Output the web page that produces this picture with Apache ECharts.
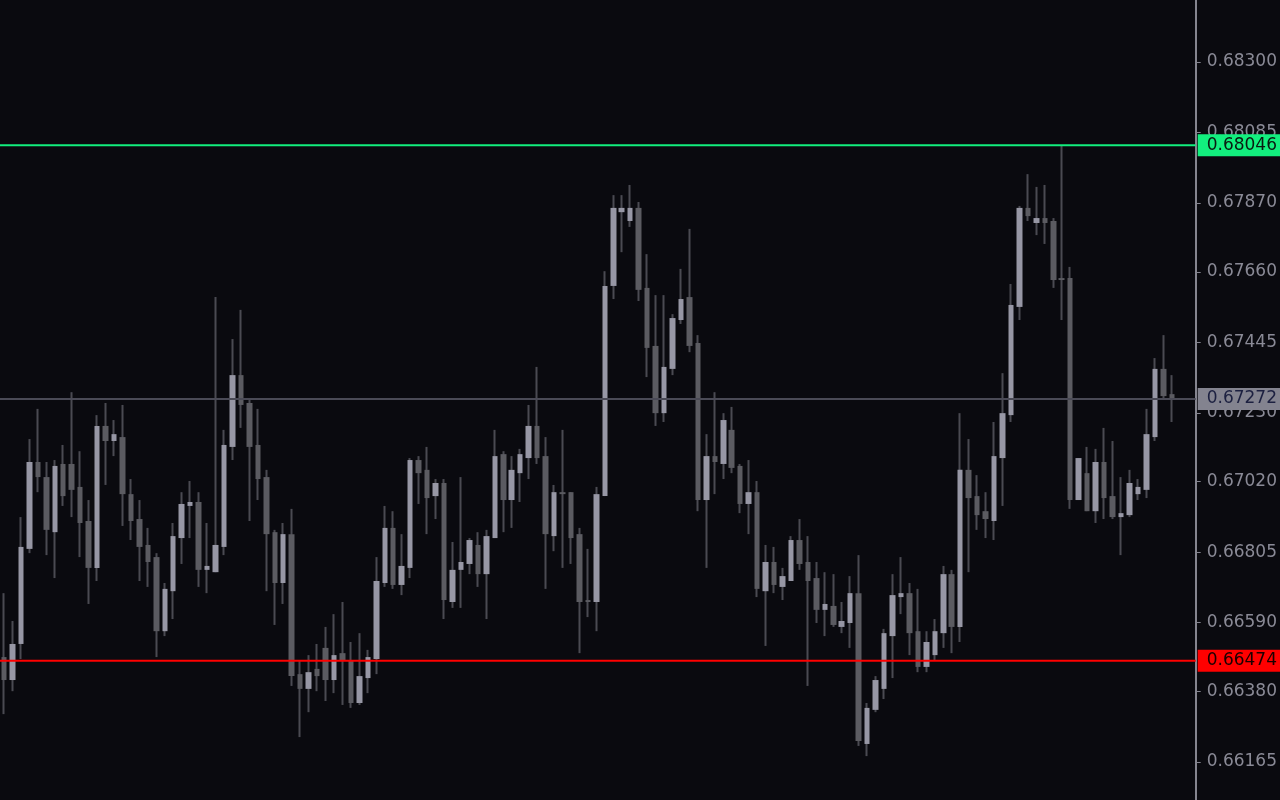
<!DOCTYPE html>
<html>
<head>
<meta charset="utf-8">
<script src="https://cdn.jsdelivr.net/npm/echarts@6/dist/echarts.min.js"></script>
<style>
html,body{margin:0;padding:0;background:#0a0a0f;}
#chart{width:1280px;height:800px;}
</style>
</head>
<body>
<div id="chart"></div>
<script>
const openVals = [0.66485,0.66415,0.66525,0.66815,0.67080,0.67034,0.66866,0.67074,0.67074,0.67004,
0.66900,0.66757,0.67190,0.67144,0.67156,0.66982,0.66906,0.66827,0.66790,0.66564,
0.66686,0.66848,0.66946,0.66958,0.66751,0.66744,0.66821,0.67126,0.67345,0.67260,
0.67132,0.67034,0.66866,0.66711,0.66860,0.66433,0.66388,0.66449,0.66513,0.66415,
0.66497,0.66476,0.66345,0.66421,0.66479,0.66711,0.66879,0.66705,0.66757,0.67086,
0.67056,0.66976,0.67016,0.66653,0.66751,0.66769,0.66827,0.66738,0.66848,0.67104,
0.66964,0.67046,0.67092,0.67190,0.67098,0.66854,0.66988,0.66988,0.66860,0.66659,
0.66653,0.66976,0.67617,0.67842,0.67815,0.67855,0.67611,0.67434,0.67229,0.67364,
0.67513,0.67583,0.67443,0.66964,0.67098,0.67074,0.67178,0.67068,0.66952,0.66988,
0.66686,0.66775,0.66699,0.66717,0.66842,0.66775,0.66726,0.66629,0.66641,0.66577,
0.66589,0.66680,0.66220,0.66324,0.66388,0.66549,0.66668,0.66680,0.66564,0.66455,
0.66491,0.66558,0.66738,0.66577,0.67056,0.66976,0.66930,0.66900,0.67092,0.67223,
0.67553,0.67855,0.67809,0.67824,0.67815,0.67641,0.67641,0.66964,0.67046,0.66930,
0.67080,0.66976,0.66912,0.66918,0.66982,0.66995,0.67156,0.67364,0.67287];

const closeVals = [0.66415,0.66525,0.66821,0.67080,0.67034,0.66873,0.67068,0.66976,0.66995,0.66894,
0.66757,0.67190,0.67144,0.67165,0.66982,0.66900,0.66821,0.66775,0.66564,0.66693,
0.66854,0.66952,0.66958,0.66751,0.66763,0.66827,0.67132,0.67345,0.67254,0.67126,
0.67028,0.66860,0.66711,0.66860,0.66427,0.66388,0.66439,0.66427,0.66415,0.66491,
0.66476,0.66345,0.66427,0.66485,0.66717,0.66879,0.66705,0.66763,0.67086,0.67046,
0.66970,0.67016,0.66659,0.66751,0.66775,0.66842,0.66738,0.66854,0.67098,0.66964,
0.67056,0.67104,0.67190,0.67092,0.66860,0.66988,0.66982,0.66848,0.66653,0.66653,
0.66982,0.67617,0.67855,0.67855,0.67855,0.67605,0.67428,0.67229,0.67370,0.67519,
0.67577,0.67434,0.66964,0.67098,0.67080,0.67208,0.67062,0.66952,0.66988,0.66693,
0.66775,0.66705,0.66732,0.66842,0.66769,0.66717,0.66629,0.66647,0.66583,0.66595,
0.66680,0.66229,0.66330,0.66415,0.66558,0.66674,0.66680,0.66558,0.66455,0.66531,
0.66564,0.66738,0.66577,0.67056,0.66970,0.66918,0.66906,0.67098,0.67229,0.67559,
0.67855,0.67830,0.67824,0.67809,0.67635,0.67635,0.66964,0.67092,0.66930,0.67080,
0.66970,0.66912,0.66924,0.67016,0.67004,0.67165,0.67364,0.67281,0.67272];

const lowVals = [0.66311,0.66381,0.66479,0.66802,0.66988,0.66796,0.66726,0.66946,0.66912,0.66790,
0.66647,0.66717,0.67010,0.67098,0.66885,0.66842,0.66717,0.66699,0.66485,0.66549,
0.66601,0.66769,0.66848,0.66699,0.66680,0.66744,0.66796,0.67086,0.67184,0.66900,
0.66964,0.66686,0.66583,0.66647,0.66397,0.66241,0.66317,0.66381,0.66351,0.66375,
0.66339,0.66330,0.66339,0.66375,0.66433,0.66699,0.66693,0.66674,0.66726,0.66952,
0.66860,0.66906,0.66601,0.66635,0.66635,0.66738,0.66699,0.66601,0.66848,0.66866,
0.66879,0.66958,0.67028,0.67074,0.66693,0.66808,0.66757,0.66769,0.66497,0.66607,
0.66564,0.66976,0.67577,0.67720,0.67797,0.67571,0.67339,0.67190,0.67202,0.67345,
0.67501,0.67415,0.66930,0.66757,0.66982,0.67028,0.67046,0.66924,0.66860,0.66668,
0.66519,0.66680,0.66659,0.66717,0.66751,0.66397,0.66589,0.66549,0.66577,0.66558,
0.66513,0.66214,0.66183,0.66317,0.66357,0.66421,0.66616,0.66491,0.66439,0.66439,
0.66476,0.66513,0.66497,0.66531,0.66744,0.66873,0.66848,0.66842,0.66946,0.67202,
0.67513,0.67815,0.67772,0.67745,0.67611,0.67513,0.66937,0.66964,0.66930,0.66894,
0.66906,0.66906,0.66796,0.66912,0.66964,0.66970,0.67144,0.67275,0.67202];

const highVals = [0.66680,0.66595,0.66912,0.67150,0.67242,0.67080,0.67086,0.67132,0.67293,0.67113,
0.66964,0.67223,0.67260,0.67208,0.67254,0.67028,0.66964,0.66879,0.66802,0.66711,
0.66894,0.66988,0.67022,0.66988,0.66894,0.67583,0.67178,0.67455,0.67544,0.67269,
0.67242,0.67056,0.66873,0.66894,0.66937,0.66473,0.66491,0.66525,0.66577,0.66616,
0.66653,0.66531,0.66558,0.66507,0.66790,0.66946,0.66930,0.66860,0.67092,0.67098,
0.67126,0.67028,0.67028,0.66836,0.67034,0.66848,0.66866,0.66873,0.67178,0.67113,
0.67098,0.67120,0.67254,0.67370,0.67156,0.67010,0.67178,0.66988,0.66879,0.66815,
0.67004,0.67662,0.67894,0.67894,0.67925,0.67873,0.67714,0.67589,0.67589,0.67531,
0.67669,0.67791,0.67467,0.67165,0.67293,0.67229,0.67248,0.67074,0.67086,0.67022,
0.66827,0.66821,0.66757,0.66854,0.66906,0.66854,0.66775,0.66744,0.66738,0.66653,
0.66732,0.66796,0.66345,0.66427,0.66571,0.66738,0.66790,0.66711,0.66693,0.66564,
0.66601,0.66763,0.66751,0.67229,0.67150,0.67040,0.66988,0.67202,0.67351,0.67623,
0.67861,0.67958,0.67919,0.67925,0.67824,0.68046,0.67675,0.67092,0.67126,0.67120,
0.67184,0.67144,0.67034,0.67056,0.67028,0.67242,0.67397,0.67467,0.67345];

const yTickLabels = ['0.68300','0.68085','0.67870','0.67660','0.67445','0.67230','0.67020','0.66805','0.66590','0.66380','0.66165'];

const levelValues = [0.68046, 0.67272, 0.66474];
const levelNames = ['high', 'current', 'low'];

// axis ranges (layout)
const X_MIN = -0.472, X_MAX = 140.83;
const Y_MIN = 0.660491, Y_MAX = 0.684891;

// ---- build library data from the arrays ----
const wickData = openVals.map((o, i) => [i, o, closeVals[i], lowVals[i], highVals[i]]);
const bodyData = openVals.map((o, i) => [i, o, closeVals[i], Math.min(o, closeVals[i]), Math.max(o, closeVals[i])]);
const tickValues = yTickLabels.map(Number);

const FONT = 'DejaVu Sans';
const levelStyle = {
  high:    { line: '#12ef7e', bg: '#12ef7e', text: '#0a1a10' },
  current: { line: '#4a4a56', bg: '#83838f', text: '#1c2040' },
  low:     { line: '#ff0000', bg: '#ff0000', text: '#1a0000' }
};

const levelSeries = levelValues.map((v, k) => {
  const s = levelStyle[levelNames[k]];
  return {
    type: 'line',
    name: levelNames[k],
    data: [[X_MIN, v], [X_MAX, v]],
    symbol: 'none',
    silent: true,
    z: 5,
    lineStyle: { color: s.line, width: 2, type: 'solid' },
    endLabel: {
      show: true,
      distance: 2,
      formatter: () => v.toFixed(5),
      color: s.text,
      backgroundColor: s.bg,
      fontFamily: FONT,
      fontSize: 17,
      padding: [2, 3, 1, 9],
      lineHeight: 19
    }
  };
});

const chart = echarts.init(document.getElementById('chart'), null, { renderer: 'canvas' });
chart.setOption({
  backgroundColor: '#0a0a0f',
  animation: false,
  grid: { left: 0, right: 83, top: 0, bottom: 0, containLabel: false },
  xAxis: {
    type: 'value',
    min: X_MIN,
    max: X_MAX,
    show: false
  },
  yAxis: {
    type: 'value',
    position: 'right',
    min: Y_MIN,
    max: Y_MAX,
    scale: true,
    splitLine: { show: false },
    axisLine: { show: true, onZero: false, lineStyle: { color: '#85858f', width: 2 } },
    axisTick: { show: true, inside: false, length: 5, lineStyle: { color: '#85858f', width: 1 }, customValues: tickValues },
    axisLabel: {
      show: true,
      customValues: tickValues,
      margin: 11,
      color: '#8a8a96',
      fontFamily: FONT,
      fontSize: 17,
      formatter: (v) => Number(v).toFixed(5)
    }
  },
  series: [
    {
      type: 'candlestick',
      name: 'wick',
      data: wickData,
      barWidth: 1,
      silent: true,
      itemStyle: {
        color: '#4a4a52', color0: '#4a4a52',
        borderColor: '#4a4a52', borderColor0: '#4a4a52', borderColorDoji: '#4a4a52',
        borderWidth: 2
      }
    },
    {
      type: 'candlestick',
      name: 'body',
      data: bodyData,
      barWidth: 6,
      silent: true,
      itemStyle: {
        color: '#9797a5', color0: '#5b5b61',
        borderColor: '#9797a5', borderColor0: '#5b5b61', borderColorDoji: '#5b5b61',
        borderWidth: 0
      }
    }
  ].concat(levelSeries)
});
</script>
</body>
</html>
